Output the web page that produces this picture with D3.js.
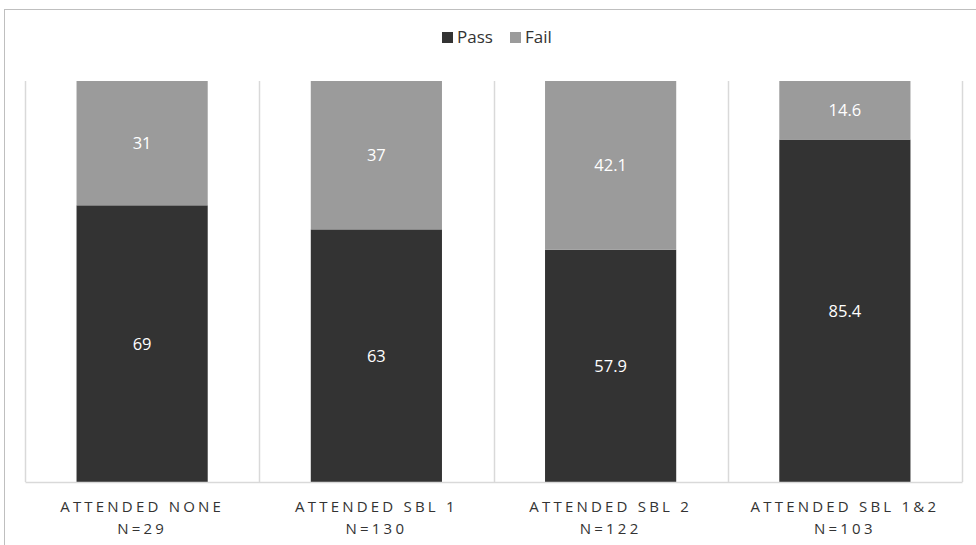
<!DOCTYPE html>
<html>
<head>
<meta charset="utf-8">
<script src="https://cdn.jsdelivr.net/npm/d3@7"></script>
<style>
  html, body { margin: 0; padding: 0; background: #fff; }
  svg { display: block; }
  text { font-family: "Open Sans", sans-serif; }
</style>
</head>
<body>
<svg id="chart" width="976" height="545"></svg>
<script>
const categories = ["ATTENDED NONE", "ATTENDED SBL 1", "ATTENDED SBL 2", "ATTENDED SBL 1&2"];
const sampleSizes = ["N=29", "N=130", "N=122", "N=103"];
const passValues = [69, 63, 57.9, 85.4];
const failValues = [31, 37, 42.1, 14.6];
const seriesNames = ["Pass", "Fail"];
const seriesColors = ["#333333", "#9b9b9b"];

const W = 976, H = 545;
const margin = { left: 25, right: 14, top: 81, bottom: 63 };
const svg = d3.select("#chart");

// outer chart border (right/bottom run off-canvas)
svg.append("rect")
  .attr("x", 4.5).attr("y", 9.5)
  .attr("width", W + 10).attr("height", H + 10)
  .attr("fill", "none").attr("stroke", "#bfbfbf").attr("stroke-width", 1);

const x = d3.scaleBand()
  .domain(categories)
  .range([margin.left, W - margin.right])
  .paddingInner(0).paddingOuter(0);

const y = d3.scaleLinear()
  .domain([0, 100])
  .range([H - margin.bottom, margin.top]);

const barW = x.bandwidth() * 0.56;

// category separators
const seps = categories.map(c => x(c)).concat([x.range()[1]]);
svg.append("g").selectAll("line").data(seps).join("line")
  .attr("x1", d => Math.round(d) + 0.5).attr("x2", d => Math.round(d) + 0.5)
  .attr("y1", y(100)).attr("y2", y(0))
  .attr("stroke", "#d9d9d9").attr("stroke-width", 1.5);

const data = categories.map((c, i) => ({ cat: c, vals: [passValues[i], failValues[i]] }));
const stacked = data.map(d => {
  let acc = 0;
  return d.vals.map((v, s) => { const r = { cat: d.cat, s, y0: acc, y1: acc + v, v }; acc += v; return r; });
}).flat();

const g = svg.append("g");
g.selectAll("rect").data(stacked).join("rect")
  .attr("x", d => x(d.cat) + (x.bandwidth() - barW) / 2)
  .attr("width", barW)
  .attr("y", d => y(d.y1))
  .attr("height", d => y(d.y0) - y(d.y1))
  .attr("fill", d => seriesColors[d.s]);

g.selectAll("text").data(stacked).join("text")
  .attr("x", d => x(d.cat) + x.bandwidth() / 2)
  .attr("y", d => (y(d.y0) + y(d.y1)) / 2)
  .attr("dy", "0.36em")
  .attr("text-anchor", "middle")
  .attr("fill", "#ffffff")
  .attr("font-size", 16.5)
  .text(d => d.v);

// baseline axis
const xAxis = d3.axisBottom(x).tickSize(0).tickFormat("");
const ax = svg.append("g").attr("transform", `translate(0,${y(0)})`).call(xAxis);
ax.select(".domain").attr("stroke", "#d9d9d9").attr("stroke-width", 1.5);

// category labels
const lab = svg.append("g");
categories.forEach((c, i) => {
  const cx = x(c) + x.bandwidth() / 2;
  lab.append("text").attr("x", cx).attr("y", 512)
    .attr("text-anchor", "middle").attr("fill", "#333333")
    .attr("font-size", 15).attr("letter-spacing", "3.2px")
    .text(c);
  lab.append("text").attr("x", cx).attr("y", 534)
    .attr("text-anchor", "middle").attr("fill", "#333333")
    .attr("font-size", 15).attr("letter-spacing", "3.2px")
    .text(sampleSizes[i]);
});

// legend
const legend = svg.append("g");
const legX = [442, 510];
seriesNames.forEach((n, i) => {
  legend.append("rect").attr("x", legX[i]).attr("y", 32).attr("width", 11).attr("height", 11)
    .attr("fill", seriesColors[i]);
  legend.append("text").attr("x", legX[i] + 15).attr("y", 43)
    .attr("fill", "#333333").attr("font-size", 17).text(n);
});
</script>
</body>
</html>
